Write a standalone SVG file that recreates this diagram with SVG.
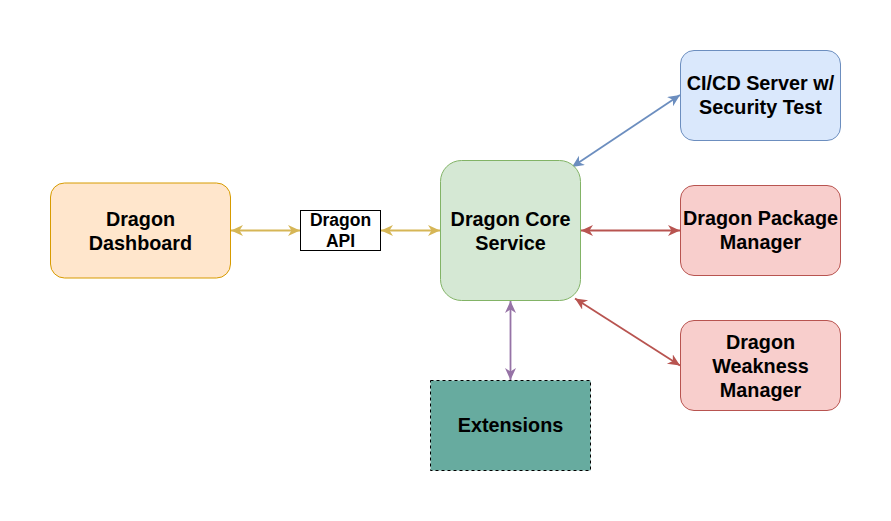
<svg xmlns="http://www.w3.org/2000/svg" width="891" height="521" viewBox="0 0 891 521">
<style>
text{font-family:"Liberation Sans",Arial,Helvetica,sans-serif;font-weight:bold;font-size:19.8px;fill:#000;text-anchor:middle}
.api{font-size:17.5px}
.c{fill:none;stroke-width:1.8}
</style>
<defs>
<marker id="ay" markerUnits="userSpaceOnUse" markerWidth="14" markerHeight="12" refX="12" refY="5.5" orient="auto-start-reverse"><path d="M0,0 L12,5.5 L0,11 L3.5,5.5 Z" fill="#d6b656"/></marker>
<marker id="ab" markerUnits="userSpaceOnUse" markerWidth="14" markerHeight="12" refX="12" refY="5.5" orient="auto-start-reverse"><path d="M0,0 L12,5.5 L0,11 L3.5,5.5 Z" fill="#6c8ebf"/></marker>
<marker id="ar" markerUnits="userSpaceOnUse" markerWidth="14" markerHeight="12" refX="12" refY="5.5" orient="auto-start-reverse"><path d="M0,0 L12,5.5 L0,11 L3.5,5.5 Z" fill="#b85450"/></marker>
<marker id="ap" markerUnits="userSpaceOnUse" markerWidth="14" markerHeight="12" refX="12" refY="5.5" orient="auto-start-reverse"><path d="M0,0 L12,5.5 L0,11 L3.5,5.5 Z" fill="#9673a6"/></marker>
</defs>
<rect width="891" height="521" fill="#fff"/>
<g id="connectors">
<line class="c" x1="231" y1="230.5" x2="300" y2="230.5" stroke="#d6b656" marker-start="url(#ay)" marker-end="url(#ay)"/>
<line class="c" x1="381" y1="230.5" x2="440" y2="230.5" stroke="#d6b656" marker-start="url(#ay)" marker-end="url(#ay)"/>
<line class="c" x1="581" y1="230.5" x2="680" y2="230.5" stroke="#b85450" marker-start="url(#ar)" marker-end="url(#ar)"/>
<line class="c" x1="572" y1="167" x2="680" y2="95" stroke="#6c8ebf" marker-start="url(#ab)" marker-end="url(#ab)"/>
<line class="c" x1="575" y1="298.5" x2="680" y2="365.5" stroke="#b85450" marker-start="url(#ar)" marker-end="url(#ar)"/>
<line class="c" x1="510.5" y1="301" x2="510.5" y2="380" stroke="#9673a6" marker-start="url(#ap)" marker-end="url(#ap)"/>
</g>
<g id="dashboard">
<rect x="50.5" y="183" width="180" height="95" rx="14" fill="#ffe6cc" stroke="#d79b00"/>
<text x="140.5" y="225.5">Dragon</text>
<text x="140.5" y="249.5">Dashboard</text>
</g>
<g id="api">
<rect x="300.5" y="210.5" width="80" height="40" fill="#fff" stroke="#000"/>
<text class="api" x="340.5" y="226.3">Dragon</text>
<text class="api" x="340.5" y="247">API</text>
</g>
<g id="core">
<rect x="440.5" y="160.5" width="140" height="140" rx="21" fill="#d5e8d4" stroke="#82b366"/>
<text x="510.5" y="226">Dragon Core</text>
<text x="510.5" y="249.5">Service</text>
</g>
<g id="cicd">
<rect x="680.5" y="50.5" width="160" height="90" rx="13.5" fill="#dae8fc" stroke="#6c8ebf"/>
<text x="760.5" y="90">CI/CD Server w/</text>
<text x="760.5" y="114">Security Test</text>
</g>
<g id="package">
<rect x="680.5" y="185.5" width="160" height="90" rx="13.5" fill="#f8cecc" stroke="#b85450"/>
<text x="760.5" y="225">Dragon Package</text>
<text x="760.5" y="249">Manager</text>
</g>
<g id="weakness">
<rect x="680.5" y="320.5" width="160" height="90" rx="13.5" fill="#f8cecc" stroke="#b85450"/>
<text x="760.5" y="348.5">Dragon</text>
<text x="760.5" y="372.5">Weakness</text>
<text x="760.5" y="396.5">Manager</text>
</g>
<g id="extensions">
<rect x="430.5" y="380.5" width="160" height="90" fill="#67ab9f" stroke="#000" stroke-dasharray="3 3"/>
<text x="510.5" y="432">Extensions</text>
</g>
</svg>
